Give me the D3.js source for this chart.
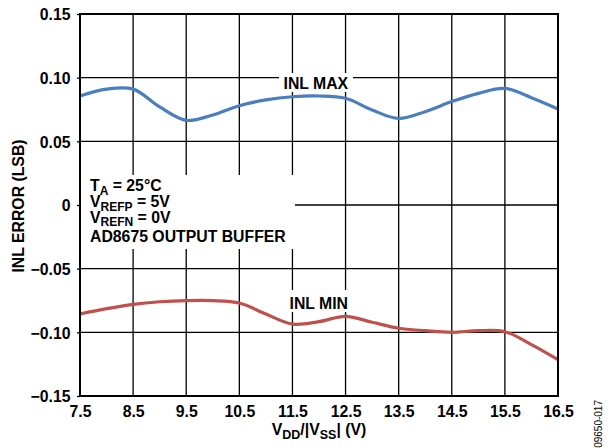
<!DOCTYPE html>
<html><head><meta charset="utf-8">
<script src="https://cdn.jsdelivr.net/npm/d3@7"></script>
<style>
html,body{margin:0;padding:0;background:#fff;}
svg{display:block;}
text{font-family:"Liberation Sans",Arial,Helvetica,sans-serif;font-weight:bold;fill:#000;}
</style></head>
<body>
<svg id="c" width="616" height="448"></svg>
<script>
const vSupply = [7.5,8.0,8.5,9.0,9.5,10.0,10.5,11.0,11.5,12.0,12.5,13.0,13.5,14.0,14.5,15.0,15.5,16.0,16.5];
const inlMax = [0.0856,0.0910,0.0910,0.0770,0.0665,0.0707,0.0780,0.0825,0.0850,0.0856,0.0838,0.0746,0.0680,0.0733,0.0812,0.0877,0.0916,0.0843,0.0754];
const inlMin = [-0.0856,-0.0814,-0.0780,-0.0760,-0.0751,-0.0751,-0.0770,-0.0856,-0.0935,-0.0916,-0.0874,-0.0921,-0.0968,-0.0987,-0.1000,-0.0987,-0.0995,-0.1097,-0.1215];
const xTicks = [7.5,8.5,9.5,10.5,11.5,12.5,13.5,14.5,15.5,16.5];
const yTicks = [-0.15,-0.10,-0.05,0,0.05,0.10,0.15];
const yTickLabels = ["\u22120.15","\u22120.10","\u22120.05","0","0.05","0.10","0.15"];
const colMax = "#4a7ebf", colMin = "#c0504d";

const FS = "15.8px", SFS = "12px";
const L=80, T=14, W=478, H=382;
const svg = d3.select("#c");
const x = d3.scaleLinear().domain([7.5,16.5]).range([L,L+W]);
const y = d3.scaleLinear().domain([-0.15,0.15]).range([T+H,T]);

// grid
const g = svg.append("g");
g.selectAll("line.v").data(xTicks.slice(1,-1)).join("line")
  .attr("x1",d=>x(d)).attr("x2",d=>x(d)).attr("y1",T).attr("y2",T+H)
  .attr("stroke","#000").attr("stroke-width",1.3);
g.selectAll("line.h").data(yTicks.slice(1,-1)).join("line")
  .attr("x1",L).attr("x2",L+W).attr("y1",d=>y(d)).attr("y2",d=>y(d))
  .attr("stroke","#000").attr("stroke-width",1.3);

// y axis ticks (outside) and labels
const yAxis = d3.axisLeft(y).tickValues(yTicks).tickSize(3).tickFormat((d,i)=>yTickLabels[i]).tickPadding(6);
const ya = svg.append("g").attr("transform",`translate(${L},0)`).call(yAxis);
ya.select(".domain").remove();
ya.selectAll(".tick line").attr("stroke","#000").attr("stroke-width",1.3);
ya.selectAll(".tick text").style("font-size",FS).style("font-family","'Liberation Sans',Arial,sans-serif").style("font-weight","bold").attr("fill","#000").attr("x",-9.5).attr("dy","0.36em");

const xAxis = d3.axisBottom(x).tickValues(xTicks).tickSize(0).tickFormat(d3.format(".1f")).tickPadding(10);
const xa = svg.append("g").attr("transform",`translate(0,${T+H})`).call(xAxis);
xa.select(".domain").remove();
xa.selectAll(".tick text").style("font-size",FS).style("font-family","'Liberation Sans',Arial,sans-serif").style("font-weight","bold").attr("fill","#000").attr("dy","0.71em").attr("y",9.5);

// annotation backgrounds
svg.append("rect").attr("x",L+1).attr("y",175).attr("width",295-L-1).attr("height",74).attr("fill","#fff");
svg.append("rect").attr("x",279).attr("y",73).attr("width",74).attr("height",19).attr("fill","#fff");
svg.append("rect").attr("x",286).attr("y",290).attr("width",66).attr("height",22).attr("fill","#fff");

// curves
const line = d3.line().x((d,i)=>x(vSupply[i])).y(d=>y(d)).curve(d3.curveCatmullRom.alpha(0.5));
svg.append("path").datum(inlMax).attr("d",line).attr("fill","none").attr("stroke",colMax).attr("stroke-width",3.2).attr("stroke-linejoin","round");
svg.append("path").datum(inlMin).attr("d",line).attr("fill","none").attr("stroke",colMin).attr("stroke-width",3.2).attr("stroke-linejoin","round");

// frame
svg.append("rect").attr("x",L).attr("y",T).attr("width",W).attr("height",H).attr("fill","none").attr("stroke","#000").attr("stroke-width",2);

// labels
svg.append("text").attr("x",283.5).attr("y",89).style("font-size",FS).text("INL MAX");
svg.append("text").attr("x",289.5).attr("y",308.5).style("font-size",FS).text("INL MIN");

function subLine(xp, yp, parts){
  const t = svg.append("text").attr("x",xp).attr("y",yp).style("font-size",FS);
  parts.forEach(p=>{
    if(p.sub){ t.append("tspan").attr("dy",3.5).style("font-size",SFS).text(p.t); }
    else if(p.after){ t.append("tspan").attr("dy",-3.5).text(p.t); }
    else t.append("tspan").text(p.t);
  });
  return t;
}
subLine(90,191,[{t:"T"},{t:"A",sub:1},{t:" = 25°C",after:1}]);
subLine(90,207,[{t:"V"},{t:"REFP",sub:1},{t:" = 5V",after:1}]);
subLine(90,222.5,[{t:"V"},{t:"REFN",sub:1},{t:" = 0V",after:1}]);
svg.append("text").attr("x",90).attr("y",241.5).style("font-size",FS).text("AD8675 OUTPUT BUFFER");

// axis titles
svg.append("text").attr("transform","translate(23.5,206) rotate(-90)").attr("text-anchor","middle").style("font-size",FS).text("INL ERROR (LSB)");
const xt = svg.append("text").attr("x",L+W/2).attr("y",435).attr("text-anchor","middle").style("font-size",FS);
xt.append("tspan").text("V");
xt.append("tspan").attr("dy",4).style("font-size","12.5px").text("DD");
xt.append("tspan").attr("dy",-4).text("/|V");
xt.append("tspan").attr("dy",4).style("font-size","12.5px").text("SS");
xt.append("tspan").attr("dy",-4).text("| (V)");

svg.append("text").attr("transform","translate(602,400) rotate(-90)").attr("text-anchor","end").style("font-size","10px").style("font-weight","normal").attr("fill","#333").text("09650-017");
</script>
</body></html>
